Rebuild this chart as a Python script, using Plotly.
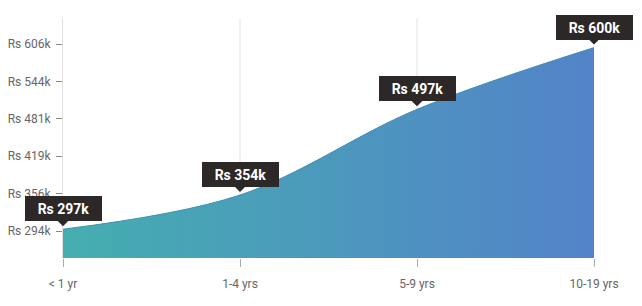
import plotly.graph_objects as go

categories = ["< 1 yr", "1-4 yrs", "5-9 yrs", "10-19 yrs"]
values_k = [297, 354, 497, 600]
label_texts = ["Rs 297k", "Rs 354k", "Rs 497k", "Rs 600k"]
ytick_vals = [294, 356.4, 418.8, 481.2, 543.6, 606]
ytick_text = ["Rs 294k", "Rs 356k", "Rs 419k", "Rs 481k", "Rs 544k", "Rs 606k"]

xs = list(range(len(categories)))
FONT = "Roboto"
BOX = "#2b2827"

fig = go.Figure()
fig.add_trace(go.Scatter(
    x=xs, y=values_k, mode="lines",
    line=dict(shape="spline", smoothing=1.0, color="#3f8fb5", width=1),
    fill="tozeroy",
    fillgradient=dict(type="horizontal",
                      colorscale=[[0, "#45aeb0"], [1, "#5383c9"]]),
    hoverinfo="skip", showlegend=False,
))

shapes = []
for i in xs[1:-1]:
    shapes.append(dict(type="line", xref="x", yref="paper", x0=i, x1=i, y0=0, y1=1,
                       line=dict(color="#e3e3e3", width=1), layer="below"))

annotations = []
for i, (v, t) in enumerate(zip(values_k, label_texts)):
    annotations.append(dict(
        x=i, y=v, xref="x", yref="y", text="<b>%s</b>" % t,
        showarrow=True, ax=0, ay=-8, axref="pixel", ayref="pixel",
        arrowhead=1, arrowsize=2.4, arrowwidth=1, arrowcolor=BOX, standoff=3,
        xanchor="center", yanchor="bottom",
        font=dict(family=FONT, size=14, color="white"),
        bgcolor=BOX, bordercolor=BOX, borderpad=3, width=69, height=17,
    ))

fig.update_layout(
    width=642, height=306,
    margin=dict(l=63, r=48, t=18, b=48),
    paper_bgcolor="white", plot_bgcolor="white",
    font=dict(family=FONT, size=12, color="#666"),
    shapes=shapes, annotations=annotations,
    xaxis=dict(range=[0, 3], tickvals=xs, ticktext=categories, showgrid=False,
               zeroline=False, showline=False, ticks="outside", ticklen=8,
               tickcolor="#aaa", ticklabelstandoff=7, automargin=False,
               tickfont=dict(family=FONT, size=12, color="#666")),
    yaxis=dict(range=[249, 649.4], tickvals=ytick_vals, ticktext=ytick_text,
               showgrid=False, zeroline=False, showline=True, linecolor="#e0e0e0",
               ticks="outside", ticklen=6, tickcolor="#888", ticklabelstandoff=3,
               automargin=False,
               tickfont=dict(family=FONT, size=12, color="#666")),
)

fig.write_html("out.html")
